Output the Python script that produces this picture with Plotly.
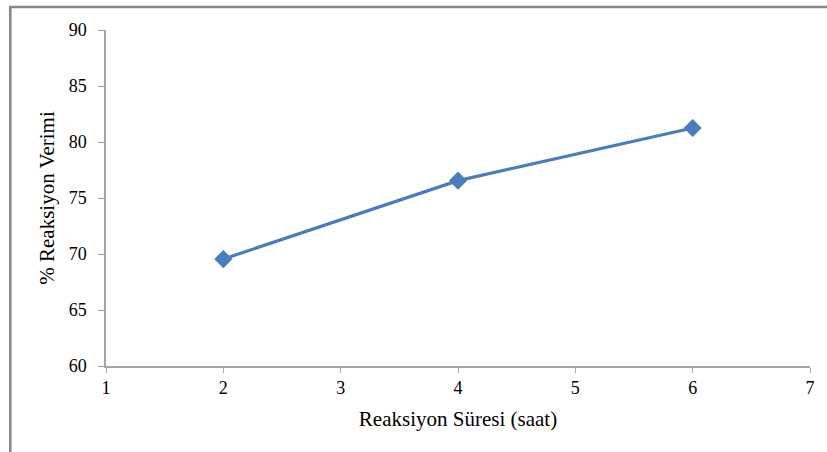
import plotly.graph_objects as go

sure = [2, 4, 6]
verim = [69.55, 76.55, 81.25]
y_ticks = [60, 65, 70, 75, 80, 85, 90]
x_ticks = [1, 2, 3, 4, 5, 6, 7]

W, H = 827, 452
L, R, T, B = 106, 15, 30, 86
pw, ph = W - L - R, H - T - B

fig = go.Figure()
fig.add_trace(go.Scatter(
    x=sure, y=verim, mode="lines+markers",
    line=dict(color="#4a7ebb", width=3.2),
    marker=dict(symbol="diamond", size=14, color="#4a7ebb"),
    showlegend=False,
))

fam = "Liberation Serif, Times New Roman, serif"
tick_font = dict(family=fam, size=18, color="#000000")
title_font = dict(family=fam, size=21, color="#000000")

fig.update_layout(
    width=W, height=H,
    margin=dict(l=L, r=R, t=T, b=B),
    paper_bgcolor="white", plot_bgcolor="white",
    font=tick_font,
    xaxis=dict(range=[1, 7], tickvals=x_ticks, showgrid=False, zeroline=False,
               showline=True, linecolor="#a6a6a6", linewidth=1.5,
               ticks="outside", ticklen=5, tickcolor="#a6a6a6", tickfont=tick_font,
               title=dict(text="Reaksiyon Süresi (saat)", standoff=14, font=title_font)),
    yaxis=dict(range=[60, 90], tickvals=y_ticks, showgrid=False, zeroline=False,
               showline=True, linecolor="#a6a6a6", linewidth=1.5,
               ticks="outside", ticklen=6, tickcolor="#a6a6a6", tickfont=tick_font,
               ticklabelstandoff=8,
               title=dict(text="% Reaksiyon Verimi", standoff=8, font=title_font)),
)

# outer chart frame (left and top edges visible)
x_left = (10 - L) / pw
y_top = (H - B - 7) / ph
y_bot = (H - B - 460) / ph
x_right = (840 - L) / pw
fig.add_shape(type="path", xref="paper", yref="paper",
              path=f"M {x_left} {y_bot} L {x_left} {y_top} L {x_right} {y_top}",
              line=dict(color="#868686", width=2.5))

fig.write_html("out.html", config={"displayModeBar": False},
               post_script="document.body.style.margin='0';document.body.style.overflow='hidden';")
